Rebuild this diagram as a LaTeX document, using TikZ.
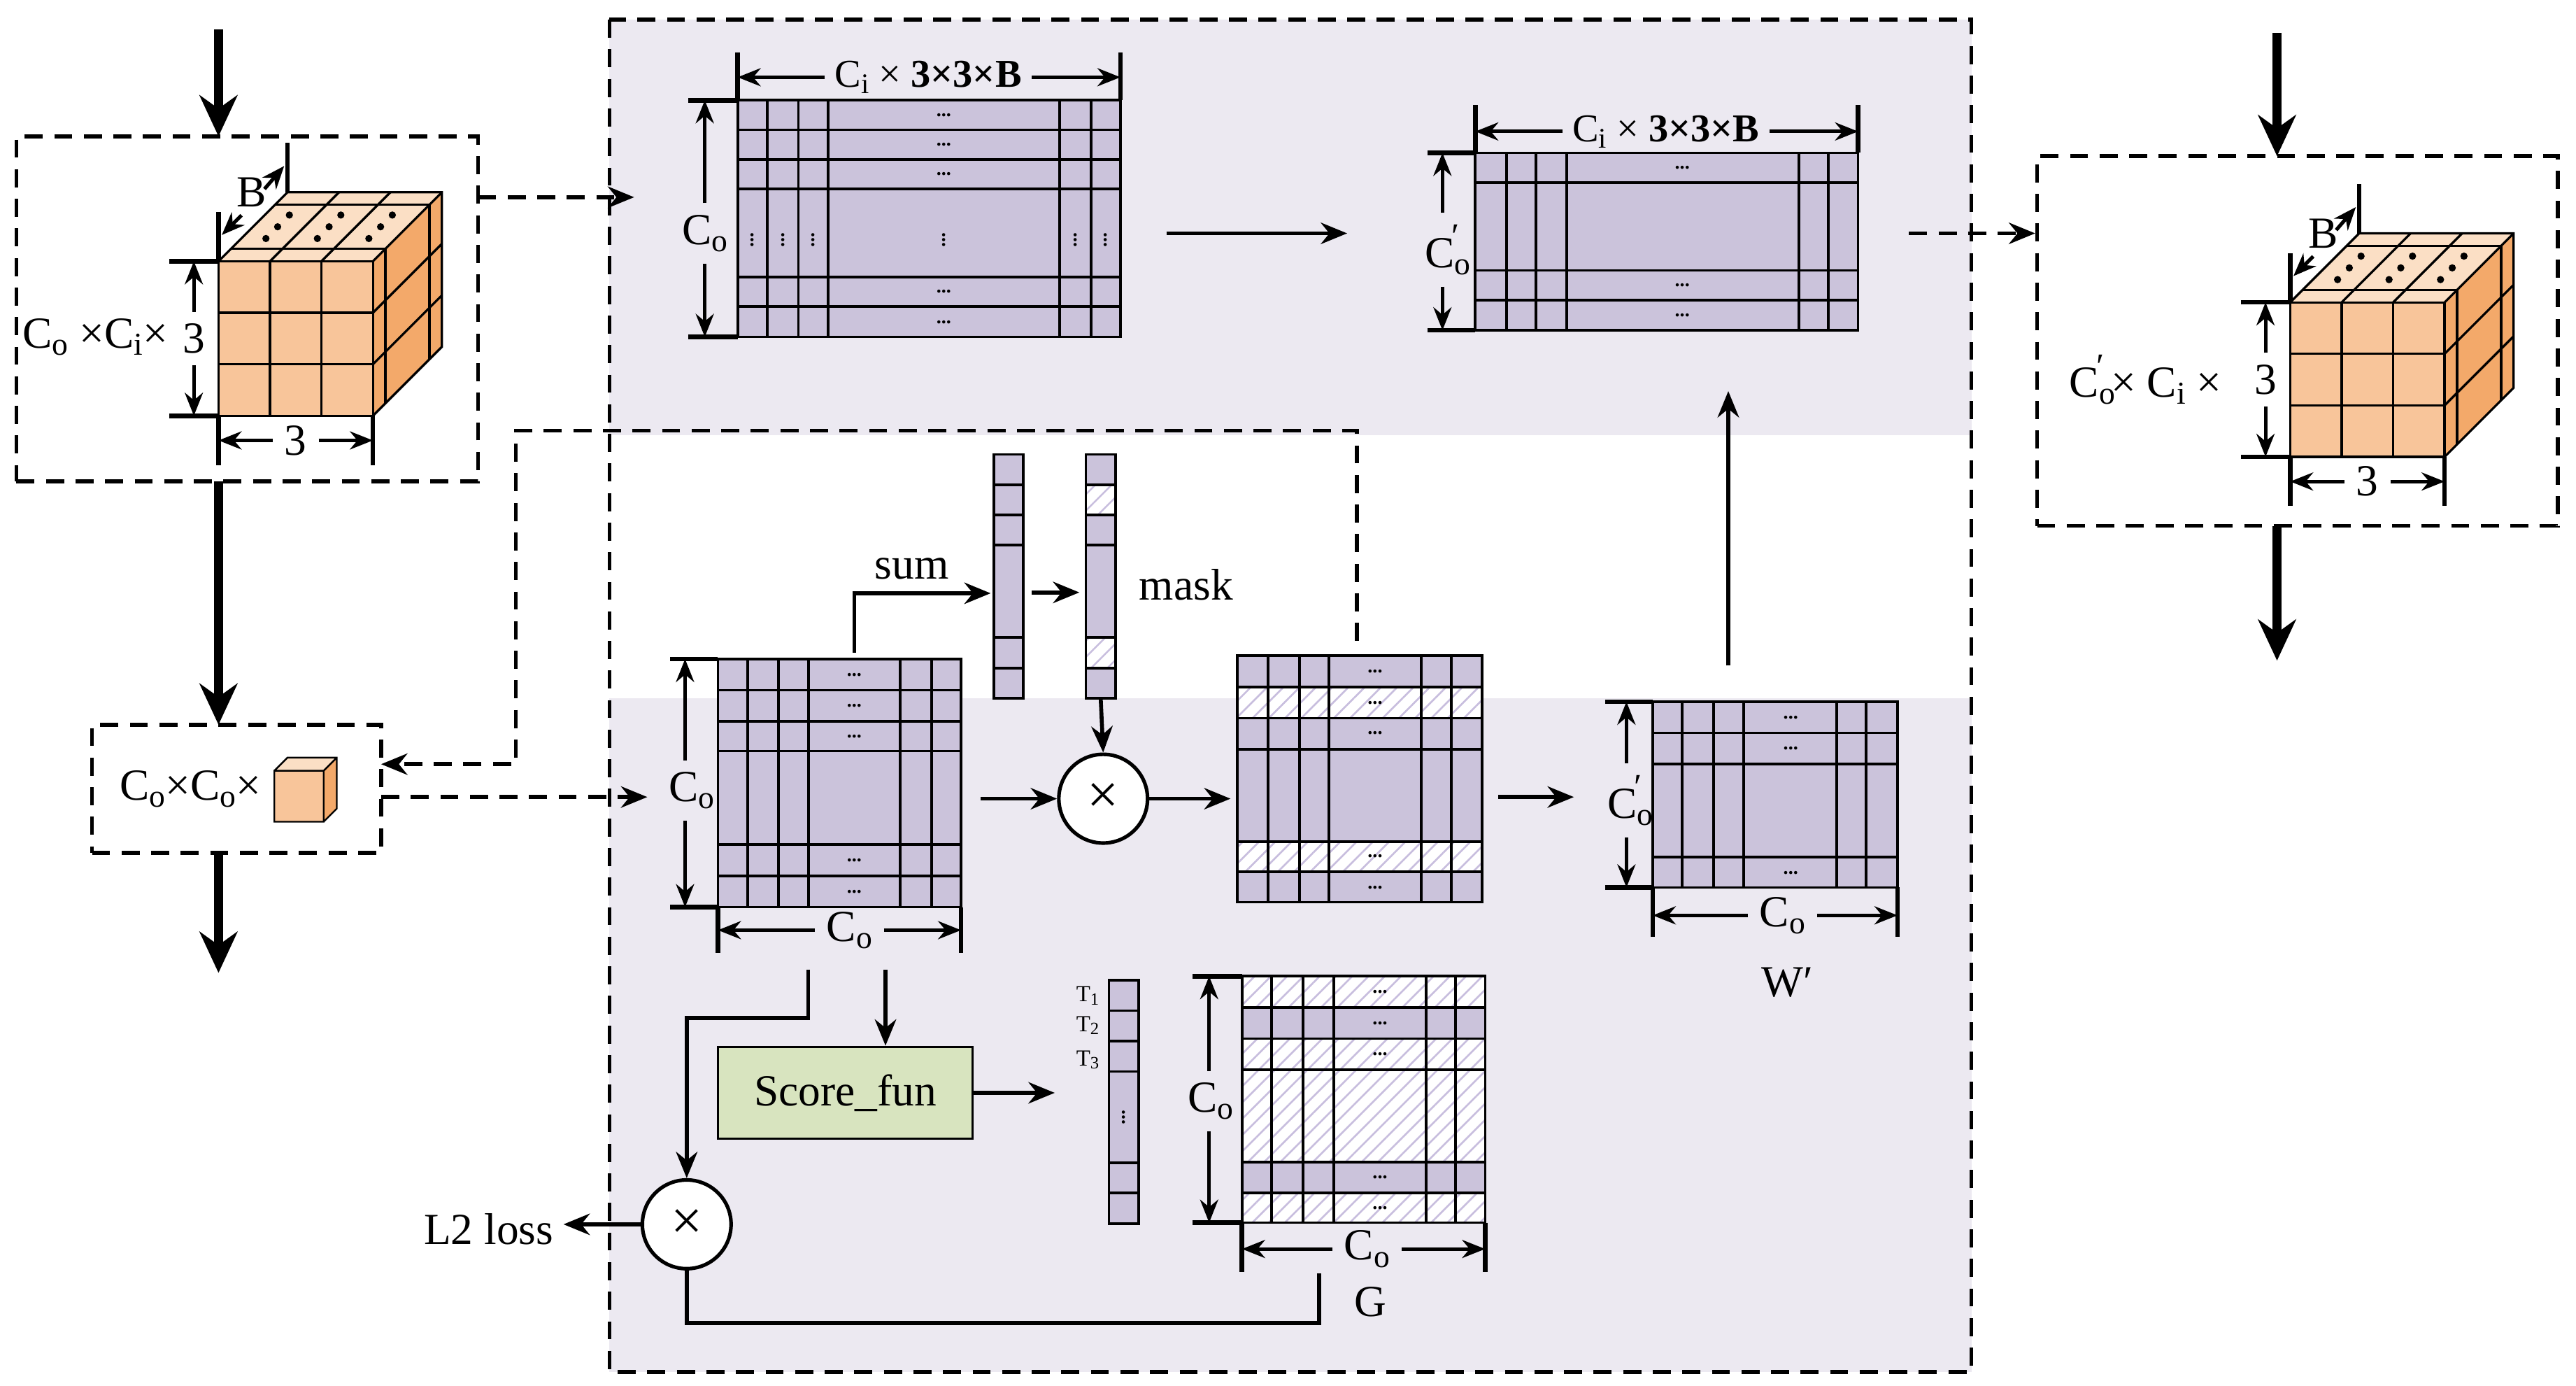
\documentclass[tikz,border=0pt]{standalone}
\usepackage{fontspec}
\setmainfont{Liberation Serif}
\usetikzlibrary{arrows.meta,patterns.meta}
\definecolor{bgl}{RGB}{236,233,241}
\definecolor{matc}{RGB}{203,195,219}
\definecolor{hatc}{RGB}{200,190,222}
\definecolor{cfront}{RGB}{248,197,154}
\definecolor{ctop}{RGB}{251,223,197}
\definecolor{cright}{RGB}{243,169,106}
\definecolor{scorec}{RGB}{216,228,191}
\newcommand\Co{C\raisebox{-.35ex}{\scalebox{.72}{o}}}
\newcommand\Ci{C\raisebox{-.35ex}{\scalebox{.72}{i}}}
\newcommand\Cop{C\raisebox{-.35ex}{\scalebox{.72}{o}}\kern-.42em\raisebox{.95ex}{\scalebox{.8}{′}}\kern.15em}
\newcommand\mgrid[6]{%
  \draw[grid] (#1,#2) rectangle (#3,#4);
  \foreach \xx in {#5} \draw[grid] (\xx,#2) -- (\xx,#4);
  \foreach \yy in {#6} \draw[grid] (#1,\yy) -- (#3,\yy);}
\newcommand\hrow[4]{\fill[white] (#1,#2) rectangle (#3,#4);
  \path[pattern={Lines[angle=45,distance=7pt,line width=1.1pt]},pattern color=hatc] (#1,#2) rectangle (#3,#4);}
\newcommand\cube[2]{% front top-left, size 94, depth 42
  \fill[cfront] (#1,#2) rectangle (#1+94,#2+94);
  \fill[ctop] (#1,#2) -- (#1+42,#2-42) -- (#1+136,#2-42) -- (#1+94,#2) -- cycle;
  \fill[cright] (#1+94,#2) -- (#1+136,#2-42) -- (#1+136,#2+52) -- (#1+94,#2+94) -- cycle;
  \draw[cg] (#1,#2) rectangle (#1+94,#2+94);
  \draw[cg] (#1,#2) -- (#1+42,#2-42) -- (#1+136,#2-42) -- (#1+136,#2+52) -- (#1+94,#2+94);
  \draw[cg] (#1+94,#2) -- (#1+136,#2-42);
  \foreach \k in {1,2} {
    \draw[cg] (#1+\k*31.33,#2) -- (#1+\k*31.33,#2+94);
    \draw[cg] (#1,#2+\k*31.33) -- (#1+94,#2+\k*31.33);
    \draw[cg] (#1+\k*31.33,#2) -- (#1+\k*31.33+42,#2-42);
    \draw[cg] (#1+94,#2+\k*31.33) -- (#1+136,#2+\k*31.33-42);}
  \foreach \t in {0.18,0.82} {
    \draw[cg] (#1+\t*42,#2-\t*42) -- (#1+94+\t*42,#2-\t*42);
    \draw[cg] (#1+94+\t*42,#2-\t*42) -- (#1+94+\t*42,#2+94-\t*42);}
  \foreach \k in {0,1,2} \foreach \t in {0.33,0.5,0.67}
    \fill (#1+\k*31.33+19+\t*42-4,#2-\t*42) circle (2.2pt);
  % B dimension
  \draw[tick] (#1,#2) -- (#1,#2-30);
  \draw[tick] (#1+42,#2-42) -- (#1+42,#2-72);
  \node[lbl] (bl) at (#1+20,#2-42) {B};
  \draw[dim] (#1+14,#2-28) -- (#1+2,#2-16);
  \draw[dim] (#1+28,#2-44) -- (#1+40,#2-58);
  % height
  \draw[tick] (#1-30,#2) -- (#1,#2);
  \draw[tick] (#1-30,#2+94) -- (#1,#2+94);
  \node[dl] (hl) at (#1-15,#2+47) {3};
  \draw[dim] (hl.north) -- (#1-15,#2);
  \draw[dim] (hl.south) -- (#1-15,#2+94);
  % width
  \draw[tick] (#1,#2+94) -- (#1,#2+124);
  \draw[tick] (#1+94,#2+94) -- (#1+94,#2+124);
  \node[dl] (wl) at (#1+47,#2+109) {3};
  \draw[dim] (wl.west) -- (#1,#2+109);
  \draw[dim] (wl.east) -- (#1+94,#2+109);}
\begin{document}
\begin{tikzpicture}[x=1pt,y=-1pt,
  every node/.style={font=\fontsize{27}{30}\selectfont, inner sep=1pt},
  lbl/.style={font=\fontsize{27}{30}\selectfont},
  dl/.style={font=\fontsize{27}{30}\selectfont, inner sep=7pt},
  sm/.style={font=\fontsize{24}{26}\selectfont, inner sep=6pt},
  dots/.style={font=\fontsize{12}{12}\selectfont\bfseries, inner sep=0pt},
  grid/.style={line width=1.6pt},
  cg/.style={line width=1.4pt},
  tick/.style={line width=2.8pt},
  dim/.style={line width=2.2pt,-{Stealth[length=14pt,width=11pt]}},
  arr/.style={line width=2.4pt,-{Stealth[length=16pt,width=13pt]}},
  darr/.style={line width=2.4pt,dash pattern=on 11pt off 7pt,-{Stealth[length=16pt,width=13pt]}},
  dbox/.style={draw,line width=2.4pt,dash pattern=on 11pt off 7pt},
  big/.style={line width=5.5pt,-{Stealth[length=25pt,width=23pt]}},
  mul/.style={circle,draw,fill=white,line width=2.2pt,minimum size=54pt,inner sep=0pt,font=\fontsize{34}{34}\selectfont}]
\useasboundingbox (0,0) rectangle (1568,843);
% backgrounds
\fill[bgl] (371,12) rectangle (1200,265);
\fill[bgl] (371,425) rectangle (1200,835);
\draw[dbox] (371,12) rectangle (1200,835);
% left boxes
\node[dbox,minimum width=281pt,minimum height=210pt] (b1) at (150.5,188) {};
\node[dbox,minimum width=176pt,minimum height=78pt] (b2) at (144,480) {};
\node[dbox,minimum width=317pt,minimum height=225pt] (b3) at (1398.5,207.5) {};
\coordinate (t1) at (133,18); \coordinate (t2) at (133,592);
\coordinate (t3) at (1386,20); \coordinate (t4) at (1386,402);
\draw[big] (t1) -- (133,83);
\draw[big] (133,293) -- (133,441);
\draw[big] (133,519) -- (t2);
\draw[big] (t3) -- (1386,95);
\draw[big] (1386,320) -- (t4);
% cubes
\cube{133}{159}
\node[lbl] at (58,205) {\Co\ ×\Ci×};
\cube{1394}{184}
\node[lbl] at (1306,231) {\Cop× \Ci\ ×};
% small cube
\node[lbl,anchor=east] at (160,480) {\Co×\Co×};
\fill[cfront] (167,469) rectangle (197,500);
\fill[ctop] (167,469) -- (175,461) -- (205,461) -- (197,469) -- cycle;
\fill[cright] (197,469) -- (205,461) -- (205,492) -- (197,500) -- cycle;
\draw[line width=1pt] (167,469) rectangle (197,500) (167,469) -- (175,461) -- (205,461) -- (205,492) -- (197,500) (197,469) -- (205,461);
% dashed connectors
\draw[darr] (291,120) -- (386,120);
\draw[darr] (1162,142) -- (b3.west |- 0,142);
\draw[darr] (826,390) -- (826,262) -- (314,262) -- (314,465) -- (232,465);
\draw[darr] (232,485) -- (394,485);
% ---- M1
\fill[matc] (449,61) rectangle (682,205);
\mgrid{449}{61}{682}{205}{467,486,504,645,664}{79,97,115,168.5,186.5}
\foreach \y in {70,88,106,177.5,196} \node[dots] at (574.5,\y) {...};
\foreach \x in {458,476.5,495,574.5,654.5,673} \node[dots,rotate=90] at (\x,146) {...};
\draw[tick] (449,61) -- (449,32); \draw[tick] (682,61) -- (682,32);
\node[sm] (l1) at (565,47) {\Ci\ × \textbf{3×3×B}};
\draw[dim] (l1.west) -- (449,47); \draw[dim] (l1.east) -- (682,47);
\draw[tick] (419,61) -- (449,61); \draw[tick] (419,205) -- (449,205);
\node[dl] (l2) at (429,142) {\Co};
\draw[dim] (l2.north) -- (429,61); \draw[dim] (l2.south) -- (429,205);
\draw[arr] (710,142) -- (820,142);
% ---- M2
\fill[matc] (898,93) rectangle (1131,201);
\mgrid{898}{93}{1131}{201}{917,935,953.5,1095,1113}{111,164.5,182.5}
\foreach \y in {102,173.5,192} \node[dots] at (1024,\y) {...};
\draw[tick] (898,93) -- (898,64); \draw[tick] (1131,93) -- (1131,64);
\node[sm] (l3) at (1014,80) {\Ci\ × \textbf{3×3×B}};
\draw[dim] (l3.west) -- (898,80); \draw[dim] (l3.east) -- (1131,80);
\draw[tick] (869,93) -- (898,93); \draw[tick] (869,201) -- (898,201);
\node[dl] (l4) at (880,152) {\Cop};
\draw[dim] (l4.north -| 878,0) -- (878,93); \draw[dim] (l4.south -| 878,0) -- (878,201);
% ---- M3
\fill[matc] (437,401) rectangle (585,552);
\mgrid{437}{401}{585}{552}{455,474,492,548,567}{420,439,457,514,533}
\foreach \y in {410.5,429.5,448,523.5,542.5} \node[dots] at (520,\y) {...};
\draw[tick] (408,401) -- (437,401); \draw[tick] (408,552) -- (437,552);
\node[dl] (l5) at (421,481) {\Co};
\draw[dim] (l5.north -| 417,0) -- (417,401); \draw[dim] (l5.south -| 417,0) -- (417,552);
\draw[tick] (437,552) -- (437,580); \draw[tick] (585,552) -- (585,580);
\node[dl] (l6) at (517,566) {\Co};
\draw[dim] (l6.west) -- (437,566); \draw[dim] (l6.east) -- (585,566);
% sum and vectors
\fill[matc] (605,276.5) rectangle (623,425);
\fill[matc] (661,276.5) rectangle (679,425);
\hrow{661}{295}{679}{313.5}
\hrow{661}{388}{679}{406.5}
\mgrid{605}{276.5}{623}{425}{}{295,313.5,331.5,388,406.5}
\mgrid{661}{276.5}{679}{425}{}{295,313.5,331.5,388,406.5}
\draw[arr] (520,397) -- (520,361) -- (603,361);
\node[lbl] at (555,346) {sum};
\draw[arr] (628,360.5) -- (657,360.5);
\node[lbl] at (722,356) {mask};
\node[mul] (x1) at (671.5,486) {×};
\draw[arr] (670,425) -- (x1.north);
\draw[arr] (597,486) -- (x1.west);
\draw[arr] (x1.east) -- (749,486);
% ---- M4
\fill[matc] (753,399) rectangle (902,549);
\hrow{753}{418}{902}{437}
\hrow{753}{512}{902}{530.5}
\mgrid{753}{399}{902}{549}{772,791,809,865,883.5}{418,437,456,512,530.5}
\foreach \y in {408.5,427.5,446,521,540} \node[dots] at (837,\y) {...};
\draw[arr] (912,485) -- (958,485);
% ---- M5
\fill[matc] (1006,427) rectangle (1155,540);
\mgrid{1006}{427}{1155}{540}{1024,1043,1061.5,1118,1136}{446,465,521.5}
\foreach \y in {436.5,455.5,531} \node[dots] at (1090,\y) {...};
\draw[tick] (977,427) -- (1006,427); \draw[tick] (977,540) -- (1006,540);
\node[dl] (l7) at (991,487) {\Cop};
\draw[dim] (l7.north -| 990,0) -- (990,427); \draw[dim] (l7.south -| 990,0) -- (990,540);
\draw[tick] (1006,540) -- (1006,570); \draw[tick] (1155,540) -- (1155,570);
\node[dl] (l8) at (1085,557) {\Co};
\draw[dim] (l8.west) -- (1006,557); \draw[dim] (l8.east) -- (1155,557);
\node[lbl] at (1088,598) {W′};
\draw[arr] (1052,405) -- (1052,238);
% ---- lower
\node[draw,fill=scorec,line width=1.4pt,minimum width=155pt,minimum height=56pt,lbl] (sf) at (514.5,665) {Score\_fun};
\draw[arr] (539,590) -- (sf.north -| 539,0);
\draw[arr] (sf.east) -- (642,665);
\node[mul] (x2) at (418,745) {×};
\draw[arr] (492,590) -- (492,619.5) -- (418,619.5) -- (x2.north);
\draw[arr] (x2.west) -- (343,745);
\node[lbl,anchor=east] at (338,748) {L2 loss};
% T vector
\fill[matc] (675,596.5) rectangle (693,744.5);
\mgrid{675}{596.5}{693}{744.5}{}{615,633.5,652,707.5,726}
\node[dots,rotate=90] at (684,680) {...};
\node[font=\fontsize{14}{14}\selectfont] at (662,606) {T\raisebox{-.3ex}{\scalebox{.75}{1}}};
\node[font=\fontsize{14}{14}\selectfont] at (662,624) {T\raisebox{-.3ex}{\scalebox{.75}{2}}};
\node[font=\fontsize{14}{14}\selectfont] at (662,645) {T\raisebox{-.3ex}{\scalebox{.75}{3}}};
% G
\fill[matc] (756,594) rectangle (904,744);
\hrow{756}{594}{904}{613}
\hrow{756}{632}{904}{707}
\hrow{756}{726}{904}{744}
\mgrid{756}{594}{904}{744}{774,793,812,868,886}{613,632,651,707,726}
\foreach \y in {603.5,622.5,641.5,716.5,735} \node[dots] at (840,\y) {...};
\draw[tick] (726,594) -- (756,594); \draw[tick] (726,744) -- (756,744);
\node[dl] (l9) at (737,670) {\Co};
\draw[dim] (l9.north -| 736,0) -- (736,594); \draw[dim] (l9.south -| 736,0) -- (736,744);
\draw[tick] (756,744) -- (756,774); \draw[tick] (904,744) -- (904,774);
\node[dl] (l10) at (832,760) {\Co};
\draw[dim] (l10.west) -- (756,760); \draw[dim] (l10.east) -- (904,760);
\node[lbl] at (834,792) {G};
\draw[line width=2.4pt] (803,775) -- (803,805) -- (418,805) -- (x2.south);
\end{tikzpicture}
\end{document}
